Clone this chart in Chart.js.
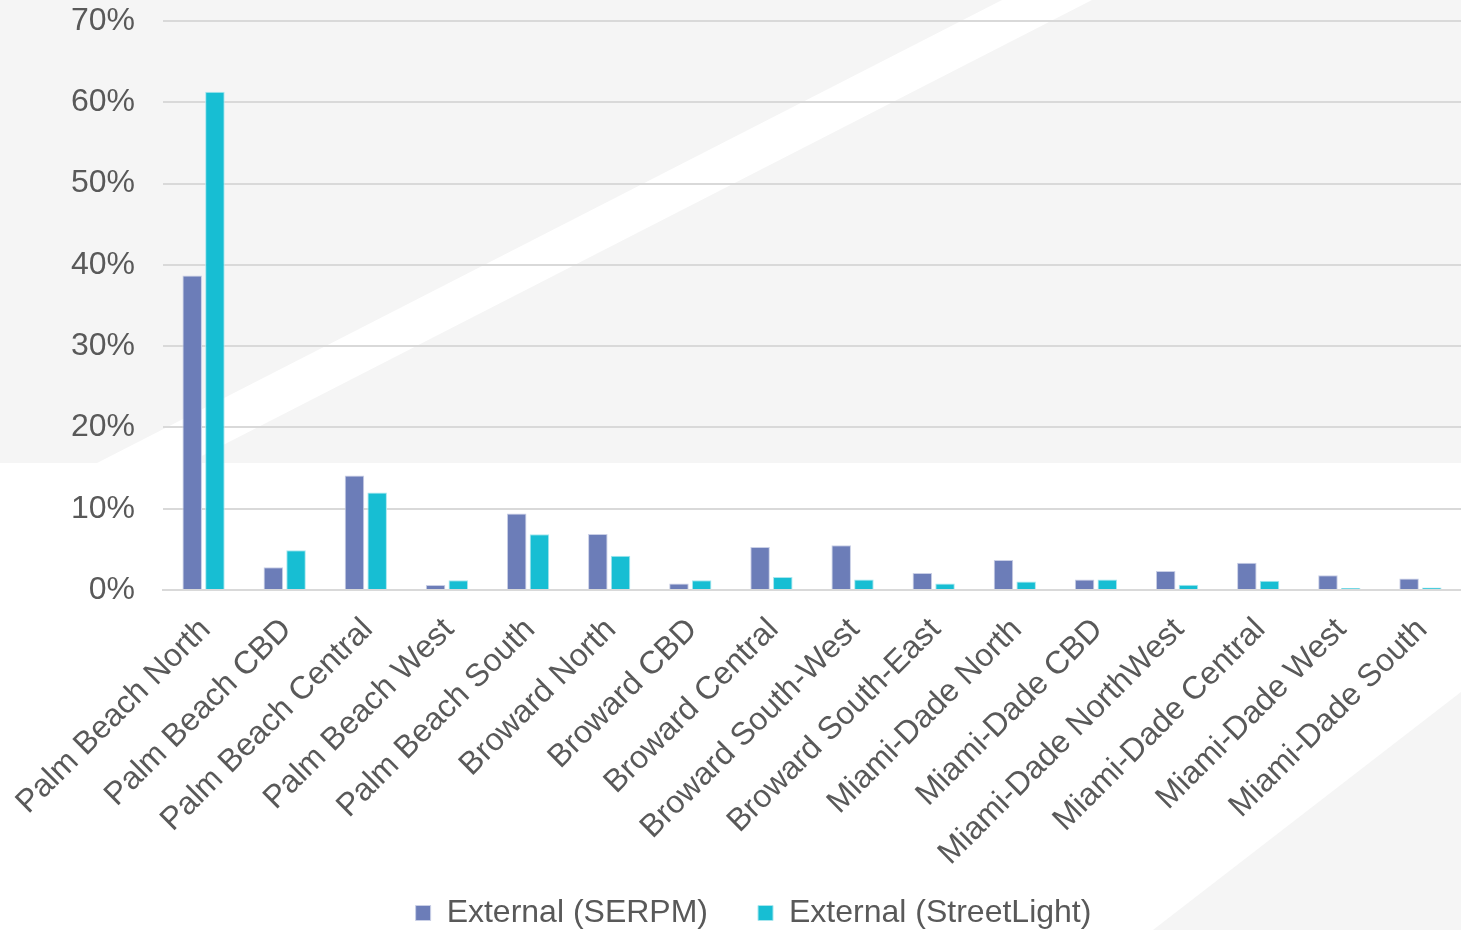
<!DOCTYPE html>
<html>
<head>
<meta charset="utf-8">
<script src="https://cdn.jsdelivr.net/npm/chart.js@4.4.1/dist/chart.umd.min.js"></script>
<style>
  html, body { margin: 0; padding: 0; background: #ffffff; }
  #wrap { width: 1461px; height: 930px; }
</style>
</head>
<body>
<div id="wrap"><canvas id="zones-chart" width="1461" height="930"></canvas></div>
<script>
// zones along the x axis
const zones = [
    'Palm Beach North', 'Palm Beach CBD', 'Palm Beach Central', 'Palm Beach West',
    'Palm Beach South', 'Broward North', 'Broward CBD', 'Broward Central',
    'Broward South-West', 'Broward South-East', 'Miami-Dade North', 'Miami-Dade CBD',
    'Miami-Dade NorthWest', 'Miami-Dade Central', 'Miami-Dade West', 'Miami-Dade South'
];

// share of trips, in percent
const serpmValues = [38.7, 2.8, 14.1, 0.6, 9.4, 6.9, 0.8, 5.3, 5.5, 2.1, 3.7, 1.3, 2.35, 3.35, 1.8, 1.4];
const streetLightValues = [61.3, 4.9, 12.0, 1.2, 6.85, 4.2, 1.2, 1.6, 1.3, 0.8, 1.05, 1.3, 0.65, 1.15, 0.25, 0.3];

const yTicks = [0, 10, 20, 30, 40, 50, 60, 70];

const textColor = '#595959';
const fontFamily = '"Liberation Sans", Arial, sans-serif';

// grey slide background with the white diagonal band
const backdrop = {
    id: 'backdrop',
    beforeDraw(chart) {
        const c = chart.ctx;
        const w = chart.width, h = chart.height;
        c.save();
        c.fillStyle = '#ffffff';
        c.fillRect(0, 0, w, h);

        c.fillStyle = '#f5f5f5';
        c.fillRect(0, 0, w, 463);

        // white band
        c.fillStyle = '#ffffff';
        c.beginPath();
        c.moveTo(1002, 0);
        c.lineTo(1092, 0);
        c.lineTo(188, 463);
        c.lineTo(97, 463);
        c.closePath();
        c.fill();

        // lower right corner
        c.fillStyle = '#f5f5f5';
        c.beginPath();
        c.moveTo(1153, h);
        c.lineTo(w, 692);
        c.lineTo(w, h);
        c.closePath();
        c.fill();
        c.restore();
    }
};

new Chart(document.getElementById('zones-chart'), {
    type: 'bar',
    data: {
        labels: zones,
        datasets: [
            {
                label: 'External (SERPM)',
                data: serpmValues,
                backgroundColor: '#6c7db8',
                borderColor: '#c9cfe6',
                borderWidth: 1,
                barPercentage: 0.86,
                categoryPercentage: 0.56
            },
            {
                label: 'External (StreetLight)',
                data: streetLightValues,
                backgroundColor: '#17bed3',
                borderColor: '#a8e6ee',
                borderWidth: 1,
                barPercentage: 0.86,
                categoryPercentage: 0.56
            }
        ]
    },
    options: {
        responsive: false,
        animation: false,
        // left padding pushes the legend centre to the right
        layout: { padding: { top: 21, right: 0, left: 46, bottom: -9 } },
        plugins: {
            legend: {
                position: 'bottom',
                labels: {
                    color: textColor,
                    font: { family: fontFamily, size: 32 },
                    boxWidth: 15,
                    boxHeight: 15,
                    padding: 50
                }
            },
            tooltip: { enabled: false }
        },
        scales: {
            y: {
                min: 0,
                max: 70,
                afterBuildTicks(axis) {
                    axis.ticks = yTicks.map(v => ({ value: v }));
                },
                afterFit(axis) {
                    axis.width = 117;
                    axis.paddingTop = 0;
                    axis.paddingBottom = 0;
                },
                border: { display: false },
                grid: { color: '#d9d9d9', lineWidth: 2, drawTicks: false },
                ticks: {
                    color: textColor,
                    font: { family: fontFamily, size: 32 },
                    padding: 28,
                    callback: v => v + '%'
                }
            },
            x: {
                afterFit(axis) {
                    axis.height = 257;
                    // long rotated labels run into the legend box, don't clip them
                    axis._computeLabelArea = () => undefined;
                },
                border: { display: true, color: '#d9d9d9', width: 2 },
                grid: { display: false },
                ticks: {
                    color: textColor,
                    font: { family: fontFamily, size: 32 },
                    minRotation: 45,
                    maxRotation: 45,
                    autoSkip: false,
                    padding: 13,
                    labelOffset: 2
                }
            }
        }
    },
    plugins: [backdrop]
});
</script>
</body>
</html>
